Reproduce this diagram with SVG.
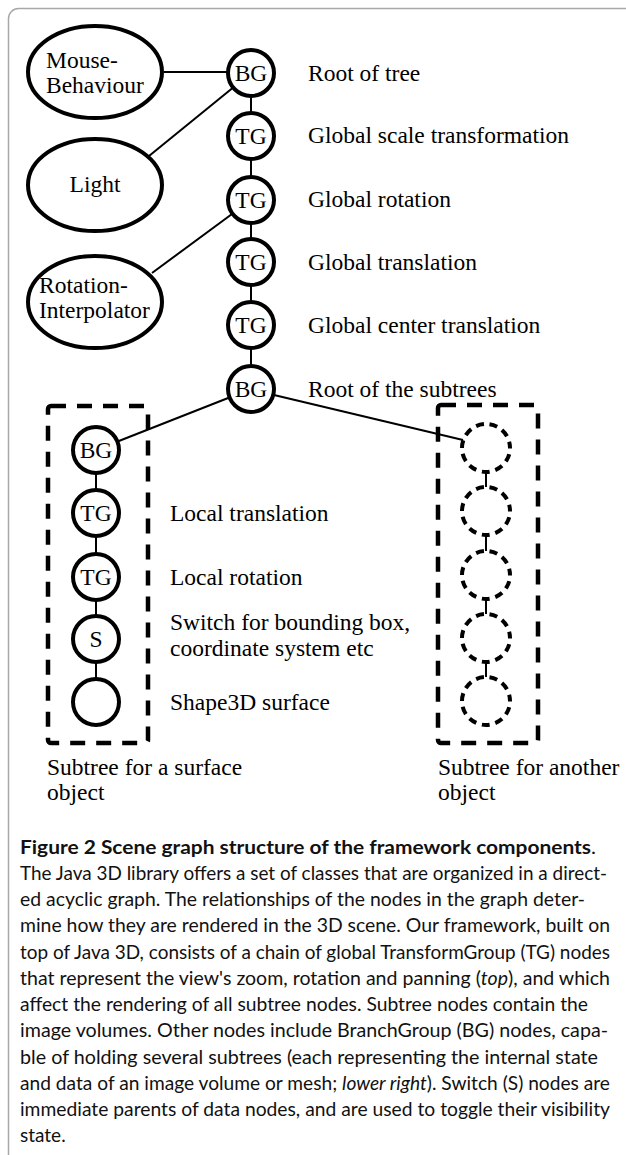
<svg xmlns="http://www.w3.org/2000/svg" width="626" height="1155" viewBox="0 0 626 1155">
<style>
.n{fill:#fff;stroke:#000;stroke-width:4}
.e{fill:#fff;stroke:#000;stroke-width:4}
.dn{fill:none;stroke:#000;stroke-width:4;stroke-dasharray:8 5.71;stroke-dashoffset:7.43}
.box{fill:none;stroke:#000;stroke-width:4.5;stroke-dasharray:15 11}
.c{stroke:#000;stroke-width:2;fill:none}
.t{font-family:"Liberation Serif","Times New Roman",serif;font-size:23.5px;fill:#000}
.m{text-anchor:middle}
.cap{font-family:Lato,"Open Sans",sans-serif;font-size:19px;fill:#111}
.b{font-weight:bold}
</style>
<rect x="8.5" y="8.5" width="700" height="1200" rx="10" fill="#fff" stroke="#a8a8a8" stroke-width="1.5"/>
<g id="connectors">
<line class="c" x1="251" y1="73" x2="251" y2="389"/>
<line class="c" x1="96" y1="450" x2="96" y2="702"/>
<line class="c" x1="164" y1="72" x2="251" y2="72"/>
<line class="c" x1="149" y1="156" x2="251" y2="73"/>
<line class="c" x1="152" y1="273" x2="251" y2="200"/>
<line class="c" x1="251" y1="389" x2="96" y2="450"/>
<line class="c" x1="274" y1="395" x2="463" y2="440"/>
<line class="c" x1="486" y1="472" x2="486" y2="487"/>
<line class="c" x1="486" y1="535" x2="486" y2="551"/>
<line class="c" x1="486" y1="599" x2="486" y2="614"/>
<line class="c" x1="486" y1="662" x2="486" y2="677"/>
</g>
<g id="mouse"><ellipse class="e" cx="95" cy="72" rx="67" ry="46"/><text class="t" x="46" y="68">Mouse-</text><text class="t" x="46" y="93">Behaviour</text></g>
<g id="light"><ellipse class="e" cx="95" cy="185" rx="67" ry="46"/><text class="t m" x="95" y="192">Light</text></g>
<g id="rotint"><ellipse class="e" cx="95" cy="302" rx="67" ry="46"/><text class="t" x="39" y="293">Rotation-</text><text class="t" x="39" y="318">Interpolator</text></g>
<g id="bg1"><circle class="n" cx="251" cy="73" r="23"/><text class="t m" x="251" y="81">BG</text><text class="t" x="308" y="81">Root of tree</text></g>
<g id="tg1"><circle class="n" cx="251" cy="136" r="23"/><text class="t m" x="251" y="144">TG</text><text class="t" x="308" y="143">Global scale transformation</text></g>
<g id="tg2"><circle class="n" cx="251" cy="200" r="23"/><text class="t m" x="251" y="208">TG</text><text class="t" x="308" y="207">Global rotation</text></g>
<g id="tg3"><circle class="n" cx="251" cy="262" r="23"/><text class="t m" x="251" y="270">TG</text><text class="t" x="308" y="270">Global translation</text></g>
<g id="tg4"><circle class="n" cx="251" cy="325" r="23"/><text class="t m" x="251" y="333">TG</text><text class="t" x="308" y="333">Global center translation</text></g>
<g id="bg2"><circle class="n" cx="251" cy="389" r="23"/><text class="t m" x="251" y="397">BG</text><text class="t" x="308" y="397">Root of the subtrees</text></g>
<g id="subtree-surface">
<rect class="box" x="48" y="406" width="100" height="337" rx="3"/>
<text class="t" x="47" y="775">Subtree for a surface</text><text class="t" x="47" y="800">object</text>
</g>
<g id="s-bg"><circle class="n" cx="96" cy="450" r="23"/><text class="t m" x="96" y="458">BG</text></g>
<g id="s-tg1"><circle class="n" cx="96" cy="513" r="23"/><text class="t m" x="96" y="521">TG</text><text class="t" x="170" y="521">Local translation</text></g>
<g id="s-tg2"><circle class="n" cx="96" cy="577" r="23"/><text class="t m" x="96" y="585">TG</text><text class="t" x="170" y="585">Local rotation</text></g>
<g id="s-s"><circle class="n" cx="96" cy="639" r="23"/><text class="t m" x="96" y="647">S</text><text class="t" x="170" y="630" font-size="22">Switch for bounding box,</text><text class="t" x="170" y="656" font-size="22">coordinate system etc</text></g>
<g id="s-shape"><circle class="n" cx="96" cy="702" r="23"/><text class="t" x="170" y="710">Shape3D surface</text></g>
<g id="subtree-other">
<rect class="box" x="438" y="405" width="100" height="338" rx="3"/>
<text class="t" x="438" y="775">Subtree for another</text><text class="t" x="438" y="800">object</text>
</g>
<g id="o1"><circle class="dn" cx="486" cy="448" r="24"/></g>
<g id="o2"><circle class="dn" cx="486" cy="511" r="24"/></g>
<g id="o3"><circle class="dn" cx="486" cy="575" r="24"/></g>
<g id="o4"><circle class="dn" cx="486" cy="638" r="24"/></g>
<g id="o5"><circle class="dn" cx="486" cy="701" r="24"/></g>
<g id="caption">
<text class="cap b" x="20" y="854" textLength="576" lengthAdjust="spacingAndGlyphs">Figure 2 Scene graph structure of the framework components<tspan font-weight="normal">.</tspan></text>
<text class="cap" x="20" y="880" textLength="587" lengthAdjust="spacingAndGlyphs">The Java 3D library offers a set of classes that are organized in a direct-</text>
<text class="cap" x="20" y="906" textLength="565" lengthAdjust="spacingAndGlyphs">ed acyclic graph. The relationships of the nodes in the graph deter-</text>
<text class="cap" x="20" y="932" textLength="590" lengthAdjust="spacingAndGlyphs">mine how they are rendered in the 3D scene. Our framework, built on</text>
<text class="cap" x="20" y="959" textLength="590" lengthAdjust="spacingAndGlyphs">top of Java 3D, consists of a chain of global TransformGroup (TG) nodes</text>
<text class="cap" x="20" y="985" textLength="590" lengthAdjust="spacingAndGlyphs">that represent the view's zoom, rotation and panning (<tspan font-style="italic">top</tspan>), and which</text>
<text class="cap" x="20" y="1011" textLength="568" lengthAdjust="spacingAndGlyphs">affect the rendering of all subtree nodes. Subtree nodes contain the</text>
<text class="cap" x="20" y="1037" textLength="588" lengthAdjust="spacingAndGlyphs">image volumes. Other nodes include BranchGroup (BG) nodes, capa-</text>
<text class="cap" x="20" y="1064" textLength="578" lengthAdjust="spacingAndGlyphs">ble of holding several subtrees (each representing the internal state</text>
<text class="cap" x="20" y="1090" textLength="590" lengthAdjust="spacingAndGlyphs">and data of an image volume or mesh; <tspan font-style="italic">lower right</tspan>). Switch (S) nodes are</text>
<text class="cap" x="20" y="1116" textLength="590" lengthAdjust="spacingAndGlyphs">immediate parents of data nodes, and are used to toggle their visibility</text>
<text class="cap" x="20" y="1142">state.</text>
</g>
</svg>
